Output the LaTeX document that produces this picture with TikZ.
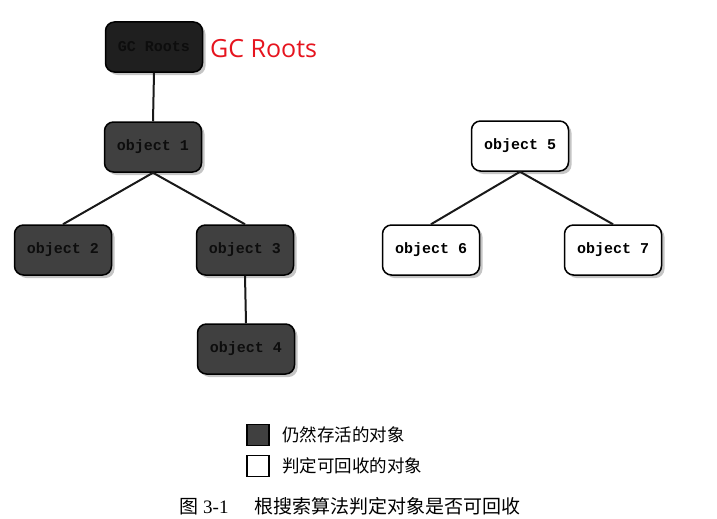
\documentclass[tikz,border=0pt]{standalone}
\usepackage{fontspec}
\setmainfont{Liberation Serif}
\newfontfamily\objfont{Liberation Mono}
\newfontfamily\gcfont{Open Sans}
\newfontfamily\cjk{Noto Sans CJK SC}
\usetikzlibrary{shadows}
\begin{document}
\begin{tikzpicture}[x=1pt,y=-1pt,
  obj/.style={rectangle,rounded corners=9pt,minimum width=97pt,minimum height=50pt,
    draw=black,line width=1.5pt,font=\objfont\bfseries\fontsize{15}{17}\selectfont,
    drop shadow={shadow xshift=3pt,shadow yshift=-3pt,opacity=0.45,fill=gray}},
  live/.style={obj,fill=black!75,text=black!95},
  dead/.style={obj,fill=white,text=black},
  link/.style={line width=2pt,draw=black!90},
  legbox/.style={rectangle,draw=black,line width=1.2pt,minimum width=22pt,minimum height=21pt,inner sep=0pt},
  legtext/.style={anchor=west,font=\cjk\fontsize{17.5}{19}\selectfont,inner sep=0pt}]
\useasboundingbox[fill=white] (0,0) rectangle (717,519);
\node[live,fill=black!88] (gc) at (154,47) {GC Roots};
\node[live] (o1) at (153,147) {object 1};
\node[live] (o2) at (63,250) {object 2};
\node[live] (o3) at (245,250) {object 3};
\node[live] (o4) at (246,349) {object 4};
\node[dead] (o5) at (520,146) {object 5};
\node[dead] (o6) at (431,250) {object 6};
\node[dead] (o7) at (613,250) {object 7};
\node[anchor=west,text={rgb,255:red,230;green,20;blue,30},font=\gcfont\fontsize{25}{28}\selectfont,inner sep=0pt] (gclabel) at (210,49) {GC Roots};
\draw[link] (gc.south) -- (o1.north);
\draw[link] (o1.south) -- (o2.north);
\draw[link] (o1.south) -- (o3.north);
\draw[link] (o3.south) -- (o4.north);
\draw[link] (o5.south) -- (o6.north);
\draw[link] (o5.south) -- (o7.north);
\node[legbox,fill=black!75] (lk1) at (258,435) {};
\node[legbox,fill=white] (lk2) at (258,466) {};
\node[legtext] (lt1) at (282,435) {仍然存活的对象};
\node[legtext] (lt2) at (282,466) {判定可回收的对象};
\node[anchor=center,inner sep=0pt,font=\fontsize{19}{21}\selectfont] (cap) at (350,506) {{\cjk 图} 3-1\hspace{26pt}{\cjk 根搜索算法判定对象是否可回收}};
\end{tikzpicture}
\end{document}
